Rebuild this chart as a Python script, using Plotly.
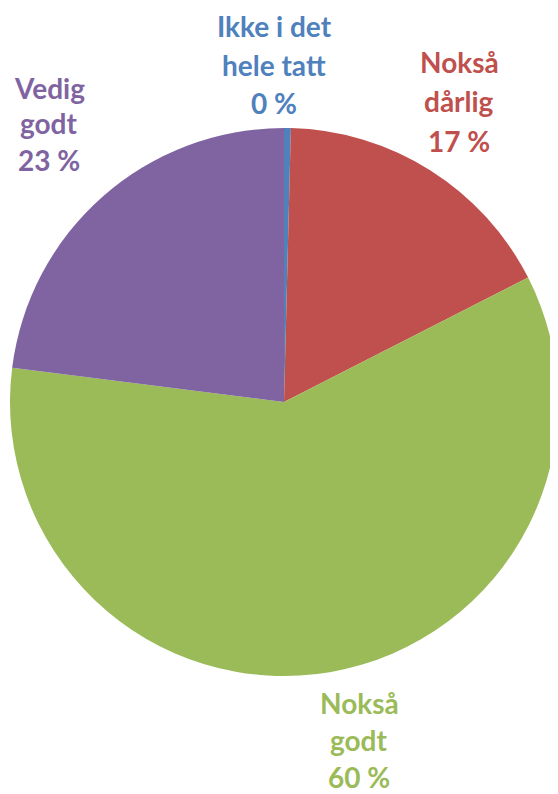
import plotly.graph_objects as go

categories = ["Ikke i det hele tatt", "Nokså dårlig", "Nokså godt", "Vedig godt"]
values = [0.4, 17.1, 59.5, 23.0]
pct_labels = ["0 %", "17 %", "60 %", "23 %"]
label_lines = [["Ikke i det", "hele tatt"], ["Nokså", "dårlig"], ["Nokså", "godt"], ["Vedig", "godt"]]
colors = ["#4F81BD", "#C0504D", "#9BBB59", "#8064A2"]

# The page body has an 8px margin, so the figure is 8px smaller than the window.
OFF = 8
W, H = 558 - OFF, 794 - OFF
# label line centers in window pixels: (x, [y per line])
label_pos = [
    (274, [26, 65, 103]),
    (459, [62, 101, 141]),
    (359, [703, 740, 777]),
    (49, [88, 123, 160]),
]

fig = go.Figure()
fig.add_trace(go.Pie(
    labels=categories, values=values, sort=False, direction="clockwise",
    rotation=0, textinfo="none", hoverinfo="label+percent",
    marker=dict(colors=colors, line=dict(width=0)),
    domain=dict(x=[(10 - OFF) / W, 1.0], y=[1 - (677 - OFF) / H, 1 - (127 - OFF) / H]),
    showlegend=False,
))

for i, (lines, pct) in enumerate(zip(label_lines, pct_labels)):
    x0, ys = label_pos[i]
    for t, yy in zip(lines + [pct], ys):
        fig.add_annotation(
            x=(x0 - OFF) / W, y=1 - (yy - OFF) / H, xref="paper", yref="paper",
            text="<b>%s</b>" % t, showarrow=False, xanchor="center", yanchor="middle",
            font=dict(family="Lato", size=28, color=colors[i]),
        )

fig.update_layout(
    width=W, height=H, margin=dict(l=0, r=0, t=0, b=0),
    paper_bgcolor="white", plot_bgcolor="white",
)
fig.write_html("out.html")
